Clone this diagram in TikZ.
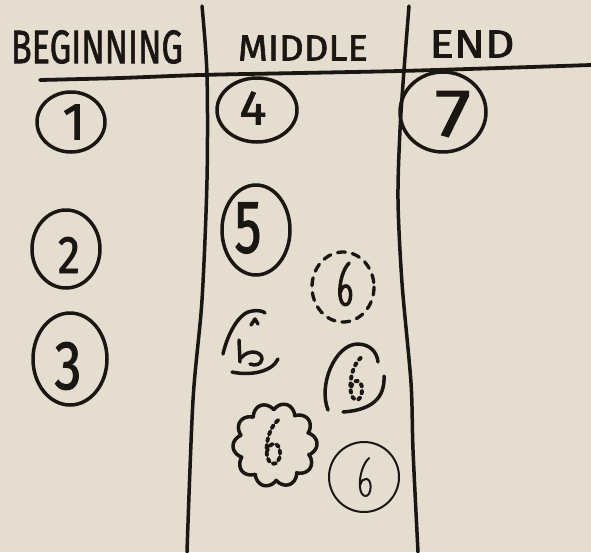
\documentclass[tikz,border=0pt]{standalone}
\usepackage{fontspec}
\setmainfont{Fira Sans}
\newfontfamily\markfont[FakeBold=1.6]{Fira Sans}
\definecolor{paper}{RGB}{229,221,208}
\definecolor{ink}{RGB}{26,22,18}
\newcommand\hand[3]{\resizebox{#1}{#2}{\markfont #3}}
\tikzset{
  marker/.style={draw=ink, line width=3.5pt, line cap=round, line join=round},
  thinpen/.style={draw=ink, line width=2pt, line cap=round, line join=round},
  ringdash/.style={marker, line width=3.3pt, dash pattern=on 8pt off 7pt},
  dotpen/.style={marker, line width=4pt, dash pattern=on 2pt off 5pt},
  dashpen/.style={marker, line width=3.8pt, dash pattern=on 3.5pt off 3.5pt},
  label/.style={inner sep=0pt, text=ink},
  six/.pic={\draw[pic actions] (0.35,-1) .. controls (-0.15,-0.75) and (-0.5,-0.1) .. (-0.42,0.45)
      .. controls (-0.35,1.05) and (0.45,1.05) .. (0.47,0.45)
      .. controls (0.48,-0.05) and (-0.2,-0.1) .. (-0.4,0.35);}
}
\begin{document}
\begin{tikzpicture}[x=1pt,y=-1pt]
\fill[paper] (0,0) rectangle (591,552);
\useasboundingbox (0,0) rectangle (591,552);

% table lines
\draw[marker, line width=3.8pt] plot[smooth] coordinates {(40,80) (120,78) (200,75) (300,73) (400,71) (500,68) (591,65)};
\draw[marker] plot[smooth] coordinates {(202,6) (207,75) (207,180) (202,300) (193,400) (187,552)};
\draw[marker] plot[smooth] coordinates {(409,6) (404,70) (400,130) (398,200) (402,283) (411,383) (413,450) (418,552)};

% headers
\node[label] (hB) at (97,47) {\hand{172pt}{33pt}{BEGINNING}};
\node[label] (hM) at (303,48) {\hand{130pt}{25pt}{MIDDLE}};
\node[label] (hE) at (472,44) {\hand{85pt}{27pt}{END}};

% beginning column
\draw[marker] (71,122) ellipse [x radius=34, y radius=30];
\node[label] (n1) at (74,122) {\hand{!}{35pt}{1}};
\draw[marker] (66,249) ellipse [x radius=34, y radius=39];
\node[label] (n2) at (69,255) {\hand{22pt}{36pt}{2}};
\draw[marker] (70,359) ellipse [x radius=37, y radius=46];
\node[label] (n3) at (68,366) {\hand{27pt}{47pt}{3}};

% middle column
\draw[marker] (257,110) ellipse [x radius=40, y radius=32];
\node[label] (n4) at (253,108) {\hand{27pt}{33pt}{4}};
\draw[marker] (256,230) ellipse [x radius=34, y radius=45];
\node[label] (n5) at (248,228) {\hand{27pt}{50pt}{5}};

% dashed ring six
\draw[ringdash] (343,287) ellipse [x radius=31, y radius=35];
\pic[marker, xscale=12, yscale=22] at (345,285) {six};

% partial six
\draw[marker] (223,354) .. controls (228,332) and (240,312) .. (252,311) .. controls (258,310) and (263,311) .. (265,313);
\draw[marker] (232,372) .. controls (250,376) and (272,372) .. (278,359);
\draw[marker] (251,325) -- (255,319) -- (258,324);
\draw[marker] (239,340) -- (240,362);
\draw[marker] (241,358) .. controls (248,349) and (262,351) .. (262,359) .. controls (261,365) and (255,366) .. (250,364);

% blob six
\draw[marker] (328,410) .. controls (318,385) and (335,345) .. (357,344) .. controls (370,344) and (377,352) .. (378,362);
\draw[marker] (384,376) .. controls (385,398) and (372,410) .. (343,412);
\pic[dotpen, xscale=13, yscale=22] at (356,380) {six};

% cloud six
\draw[marker] plot[domain=0:360, samples=360] ({275+(35+7*abs(cos(5*\x+10))^0.8)*cos(\x)}, {445+(35+7*abs(cos(5*\x+10))^0.8)*sin(\x)}) -- cycle;
\pic[dashpen, xscale=15, yscale=23] at (273,443) {six};

% thin circle six
\draw[thinpen] (364,477) circle [radius=35];
\pic[thinpen, xscale=12, yscale=20] at (365,478) {six};

% end column
\draw[marker] (443,112) ellipse [x radius=43, y radius=40];
\node[label] (n7) at (453,114) {\hand{36pt}{45pt}{7}};
\end{tikzpicture}
\end{document}
